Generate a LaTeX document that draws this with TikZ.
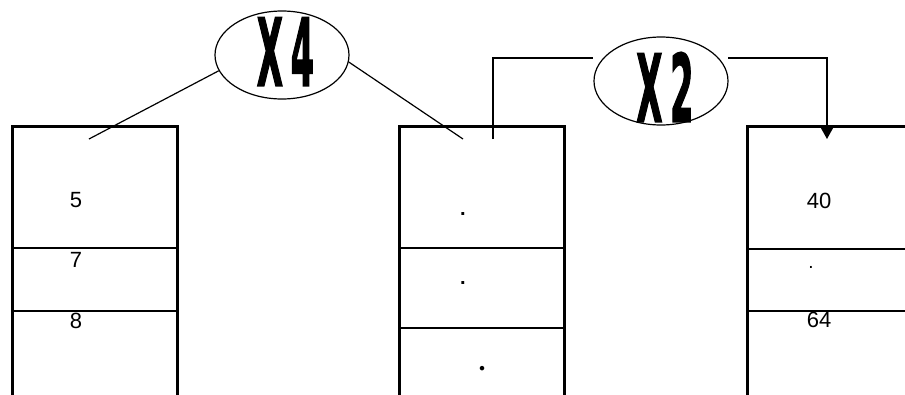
\documentclass[tikz,border=0pt]{standalone}
\usepackage{fontspec}
\setmainfont{Liberation Sans}
\newfontfamily\heavyfont{DejaVu Sans}
\newfontfamily\serifdot{Liberation Serif}
\usetikzlibrary{shapes.geometric,arrows.meta}
\newcommand\heavytext[2]{\special{pdf:code 2 Tr 2.2 w 0 j}\scalebox{0.36}[1]{\fontsize{93}{93}\selectfont\heavyfont\bfseries #1\hspace{22pt}#2}\special{pdf:code 0 Tr 1 w}}
\begin{document}
\begin{tikzpicture}[x=1pt,y=1pt,
  boxline/.style={line width=3pt},
  divline/.style={line width=1.3pt},
  conn/.style={line width=1.2pt},
  oval/.style={draw, ellipse, line width=1.2pt, minimum width=134pt, minimum height=88pt, inner sep=0pt},
  bigmark/.style={inner sep=0pt},
  num/.style={font=\fontsize{22}{22}\selectfont, inner sep=0pt},
  dotmark/.style={font=\fontsize{20}{20}\selectfont\bfseries, inner sep=0pt, anchor=base},
]
\useasboundingbox (0,0) rectangle (905,-394);
\clip (0,0) rectangle (905,-394);

% boxes
\draw[boxline] (12,-400) -- (12,-126) -- (177,-126) -- (177,-400);
\draw[divline] (12,-248) -- (177,-248) (12,-311) -- (177,-311);
\draw[boxline] (399,-400) -- (399,-126) -- (564,-126) -- (564,-400);
\draw[divline] (399,-248) -- (564,-248) (399,-328) -- (564,-328);
\draw[boxline] (747,-400) -- (747,-126) -- (910,-126);
\draw[divline] (747,-249) -- (910,-249) (747,-311) -- (910,-311);

% contents
\node[num] (n5) at (76,-200) {5};
\node[num] (n7) at (76,-260) {7};
\node[num] (n8) at (76,-321) {8};
\node[dotmark] (d1) at (463,-215) {.};
\node[dotmark] (d2) at (463,-284) {.};
\node[inner sep=0pt, anchor=base, font=\fontsize{28}{28}\selectfont\serifdot\bfseries] (d3) at (482,-370.5) {.};
\node[num] (n40) at (819,-201) {40};
\node[inner sep=0pt, anchor=base, font=\fontsize{19}{19}\selectfont] (d4) at (811,-268.5) {.};
\node[num] (n64) at (819,-320) {64};

% ovals
\node[oval] (x4) at (282,-55) {};
\node[bigmark] (x4t) at (285.5,-51.5) {\heavytext{X}{4}};
\node[oval] (x2) at (661,-81) {};
\node[bigmark] (x2t) at (665,-87) {\heavytext{X}{2}};

% connector ends
\coordinate (a1) at (89,-139);
\coordinate (a2) at (463,-139);
\coordinate (a3) at (493,-139);
\coordinate (a4) at (827,-139);
\coordinate (c1) at (593,-58);
\coordinate (c2) at (728,-58);

\draw[conn] (x4.194) -- (a1);
\draw[conn] (x4.354) -- (a2);
\draw[conn] (a3) |- (c1);
\draw[conn,-{Triangle[length=12pt,width=13pt]}] (c2) -| (a4);
\end{tikzpicture}
\end{document}
